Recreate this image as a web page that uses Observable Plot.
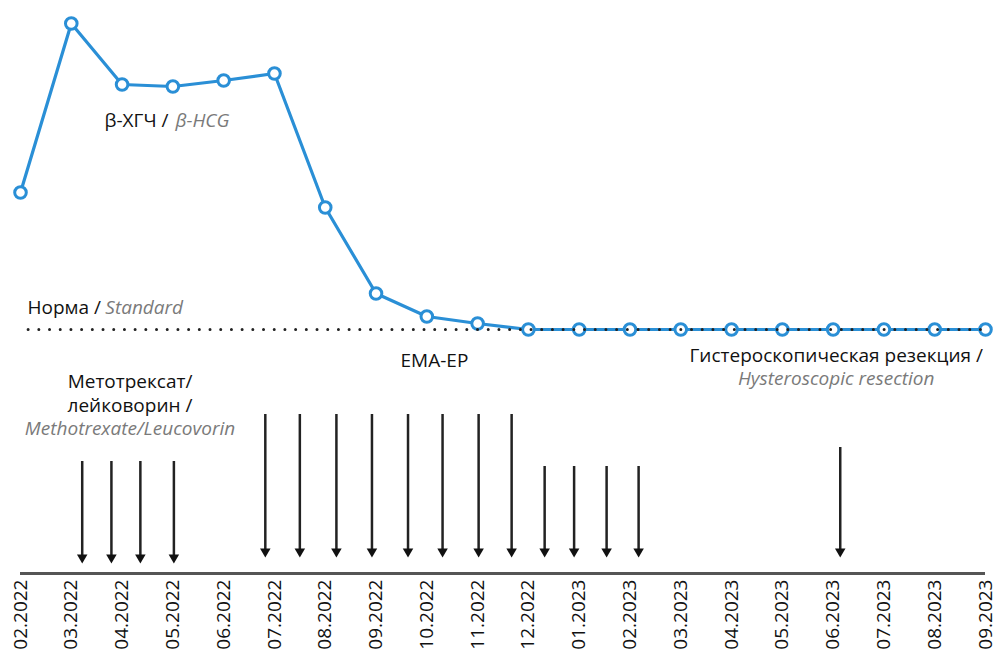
<!DOCTYPE html>
<html><head><meta charset="utf-8">
<script src="https://cdn.jsdelivr.net/npm/d3@7"></script>
<script src="https://cdn.jsdelivr.net/npm/@observablehq/plot@0.6"></script>
<style>html,body{margin:0;padding:0;background:#fff}</style>
</head><body><div id="chart"></div>
<script>
// Month tick labels (x = month index)
const months = ["02.2022","03.2022","04.2022","05.2022","06.2022","07.2022","08.2022","09.2022","10.2022","11.2022",
                "12.2022","01.2023","02.2023","03.2023","04.2023","05.2023","06.2023","07.2023","08.2023","09.2023"];
// β-hCG level relative to the standard (arbitrary units, no axis in the original)
const hcg = [137, 306, 245, 243, 249, 256, 122, 36, 13, 6, 0, 0, 0, 0, 0, 0, 0, 0, 0, 0];
const standardLevel = 0;
// Treatment events (fractional month index)
const mtxDates = [1.215, 1.79, 2.36, 3.02];
const emaLongDates = [4.82, 5.50, 6.22, 6.92, 7.63, 8.31, 9.02, 9.67];
const emaShortDates = [10.32, 10.90, 11.54, 12.17];
const hystDates = [16.14];

const blue = "#2a8fd6", gray = "#7a7a7a", ink = "#111";
const arrowTop = {mtx: -132, emaLong: -85, emaShort: -137, hyst: -118};
const arrowTip = {mtx: -234, emaLong: -228, emaShort: -228, hyst: -228};
const arrows = [
  ...mtxDates.map(x => ({x, top: arrowTop.mtx, tip: arrowTip.mtx})),
  ...emaLongDates.map(x => ({x, top: arrowTop.emaLong, tip: arrowTip.emaLong})),
  ...emaShortDates.map(x => ({x, top: arrowTop.emaShort, tip: arrowTip.emaShort})),
  ...hystDates.map(x => ({x, top: arrowTop.hyst, tip: arrowTip.hyst}))
];
const series = hcg.map((v, i) => ({i, v}));
const fs = 19;

const chart = Plot.plot({
  width: 996, height: 652,
  marginLeft: 20, marginRight: 11, marginTop: 0, marginBottom: 79,
  style: {fontFamily: "'Open Sans', sans-serif", background: "#fff", color: ink},
  x: {domain: [0, 19]},
  y: {domain: [-244, 329], axis: null},
  marks: [
    Plot.ruleY([-244], {stroke: "#555", strokeWidth: 3}),
    Plot.axisX(d3.range(months.length), {tickFormat: i => months[i], tickRotate: -90, tickSize: 0, tickPadding: 6, fontSize: 19, fill: ink, label: null}),
    // arrows
    Plot.ruleX(arrows, {x: "x", y1: "top", y2: d => d.tip + 6, stroke: "#222", strokeWidth: 2.5}),
    Plot.dot(arrows, {x: "x", y: d => d.tip + 6, symbol: "triangle", rotate: 180, r: 3.9, fill: "#111", stroke: "none"}),
    // hCG line
    Plot.line(series, {x: "i", y: "v", stroke: blue, strokeWidth: 3.2}),
    Plot.dot(series, {x: "i", y: "v", r: 5.8, fill: "#fff", stroke: blue, strokeWidth: 3}),
    // standard
    Plot.ruleY([standardLevel], {x1: 0.16, x2: 19, stroke: "#222", strokeWidth: 3, strokeDasharray: "0,10.7", strokeLinecap: "round"}),
    // labels
    Plot.text(["β-ХГЧ /"], {x: 1.654, y: 209, textAnchor: "start", fontSize: fs, fill: ink}),
    Plot.text(["β-HCG"], {x: 3.05, y: 209, textAnchor: "start", fontSize: fs, fill: gray, fontStyle: "italic"}),
    Plot.text(["Норма /"], {x: 0.138, y: 22, textAnchor: "start", fontSize: fs, fill: ink}),
    Plot.text(["Standard"], {x: 1.67, y: 22, textAnchor: "start", fontSize: fs, fill: gray, fontStyle: "italic"}),
    Plot.text(["EMA-EP"], {x: 8.15, y: -31, fontSize: fs, fill: ink}),
    Plot.text(["Метотрексат/"], {x: 2.156, y: -52, fontSize: fs, fill: ink}),
    Plot.text(["лейковорин /"], {x: 2.156, y: -76, fontSize: fs, fill: ink}),
    Plot.text(["Methotrexate/Leucovorin"], {x: 2.156, y: -99, fontSize: fs, fill: gray, fontStyle: "italic"}),
    Plot.text(["Гистероскопическая резекция /"], {x: 16.06, y: -26, fontSize: fs, fill: ink}),
    Plot.text(["Hysteroscopic resection"], {x: 16.06, y: -49, fontSize: fs, fill: gray, fontStyle: "italic"})
  ]
});
document.getElementById("chart").appendChild(chart);
</script>
</body></html>
